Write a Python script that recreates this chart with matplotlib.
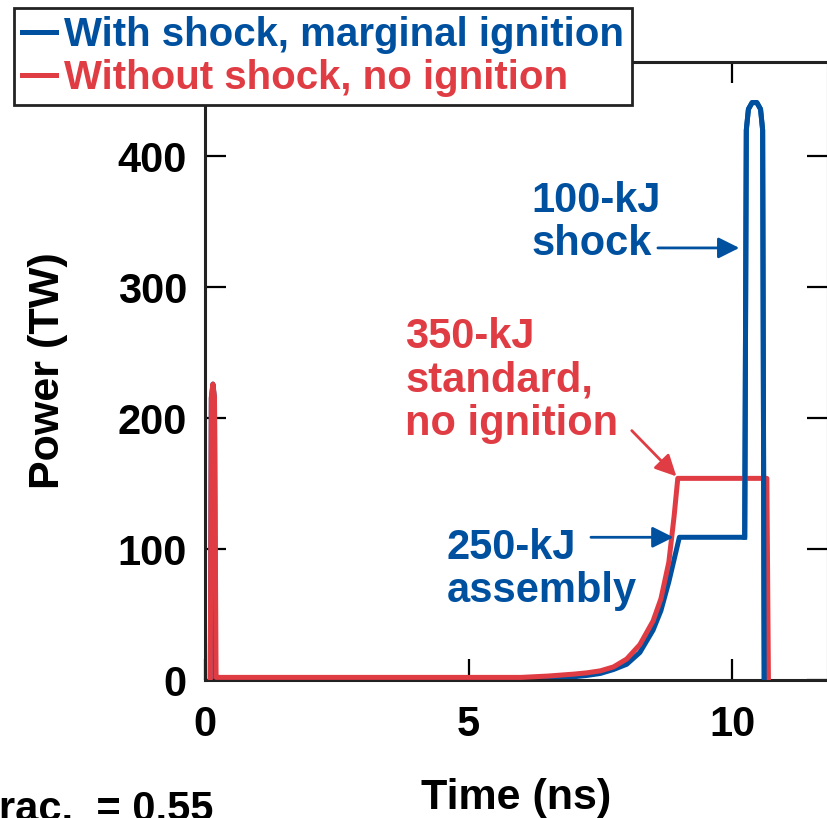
import matplotlib
matplotlib.use("Agg")
import matplotlib.pyplot as plt

plt.rcParams['font.family'] = ['Liberation Sans', 'DejaVu Sans']
plt.rcParams['font.weight'] = 'bold'

BLUE = "#0050a0"
RED = "#e03c44"

# pulse with shock (blue)
t_shock = [0.10, 0.12, 0.15, 0.18, 0.20, 0.25, 2.0, 4.0, 6.0, 6.5, 7.0, 7.25, 7.5, 7.75, 8.0, 8.25,
           8.5, 8.65, 8.8, 8.9, 9.0, 10.24, 10.27, 10.31, 10.38, 10.47, 10.54, 10.58, 10.61]
p_shock = [0, 215, 226, 215, 1, 0.5, 0.5, 0.5, 1.0, 1.5, 2.5, 3.5, 5, 8, 12, 21,
           38, 53, 75, 92, 109, 109, 420, 436, 441, 441, 436, 420, 0]

# standard pulse without shock (red)
t_std = [0.10, 0.12, 0.15, 0.18, 0.21, 0.25, 2.0, 4.0, 6.0, 6.5, 7.0, 7.25, 7.5, 7.75, 8.0, 8.25,
         8.5, 8.65, 8.8, 8.9, 8.97, 10.66, 10.69]
p_std = [0, 216, 226, 216, 2, 2, 2, 2, 2, 3, 4.5, 5.5, 7, 10, 16, 27,
         45, 62, 90, 125, 154, 154, 0]

fig = plt.figure(figsize=(8.27, 8.18), dpi=100)
ax = fig.add_axes([205 / 827, 138 / 818, 623 / 827, 618 / 818])

ax.plot(t_shock, p_shock, color=BLUE, lw=3.6, solid_joinstyle='round', zorder=2)
ax.plot(t_std, p_std, color=RED, lw=3.6, solid_joinstyle='round', zorder=3)
# the late part of the shock pulse sits on top of the red plateau
late = [i for i, t in enumerate(t_shock) if t > 9.5]
ax.plot([t_shock[i] for i in late], [p_shock[i] for i in late], color=BLUE, lw=3.6,
        solid_joinstyle='round', zorder=4)

ax.set_xlim(0, 11.82)
ax.set_ylim(0, 472)
ax.set_xticks([0, 5, 10])
ax.set_yticks([0, 100, 200, 300, 400])
ax.tick_params(direction='in', length=15, width=1.6, labelsize=30, top=True, right=True)
ax.tick_params(axis='x', pad=18)
ax.tick_params(axis='y', pad=13)
for s in ax.spines.values():
    s.set_linewidth(2.2)
    s.set_color('#222222')

ax.set_xlabel("Time (ns)", fontsize=31, fontweight='bold', labelpad=24)
ax.set_ylabel("Power (TW)", fontsize=31, fontweight='bold', labelpad=36)

fs = 30
ax.text(6.2, 381, "100-kJ\nshock", color=BLUE, fontsize=fs, ha='left', va='top', linespacing=1.1)
ax.text(3.8, 277, "350-kJ\nstandard,\nno ignition", color=RED, fontsize=fs, ha='left', va='top',
        linespacing=1.1)
ax.text(4.59, 116, "250-kJ\nassembly", color=BLUE, fontsize=fs, ha='left', va='top', linespacing=1.1)

ax.annotate("", xy=(10.19, 330), xytext=(8.54, 330),
            arrowprops=dict(arrowstyle='-|>', color=BLUE, lw=2, mutation_scale=32))
ax.annotate("", xy=(8.98, 154), xytext=(8.06, 192),
            arrowprops=dict(arrowstyle='-|>', color=RED, lw=2, mutation_scale=32))
ax.annotate("", xy=(8.94, 109), xytext=(7.27, 109),
            arrowprops=dict(arrowstyle='-|>', color=BLUE, lw=2, mutation_scale=32))

h1, = ax.plot([], [], color=BLUE, lw=3.6)
h2, = ax.plot([], [], color=RED, lw=3.6)
leg = fig.legend([h1, h2], ["With shock, marginal ignition", "Without shock, no ignition"],
                 loc='upper left', bbox_to_anchor=(14 / 827, 1 - 8 / 818), fontsize=29,
                 handlelength=0.85, handletextpad=0.2, borderpad=0.2, labelspacing=0.12,
                 borderaxespad=0, fancybox=False, framealpha=1)
leg.get_frame().set_edgecolor('#222222')
leg.get_frame().set_linewidth(2)
leg.get_texts()[0].set_color(BLUE)
leg.get_texts()[1].set_color(RED)

fig.text(213 / 827, -3 / 818, "frac.  = 0.55", fontsize=30, ha='right', va='baseline')

fig.savefig("out.png", dpi=100)
